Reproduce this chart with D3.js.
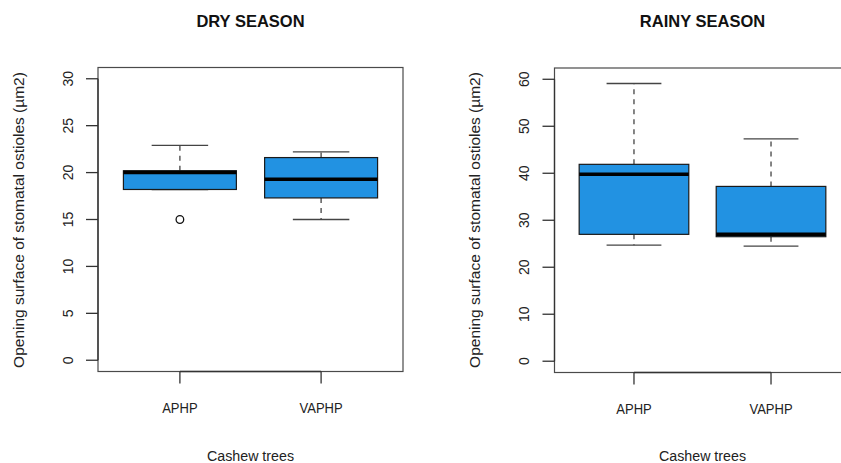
<!DOCTYPE html>
<html>
<head>
<meta charset="utf-8">
<script src="https://cdn.jsdelivr.net/npm/d3@7"></script>
<style>
  html, body { margin: 0; padding: 0; background: #fff; }
  svg { display: block; font-family: "Liberation Sans", Arial, Helvetica, sans-serif; }
</style>
</head>
<body>
<svg id="chart" width="841" height="463"></svg>
<script>
// Cashew tree groups
const categories = ["APHP", "VAPHP"];

// Box statistics per group: [lower whisker, Q1, median, Q3, upper whisker]
const dryStats = [
  [18.2, 18.2, 20.0, 20.2, 22.9],
  [15.0, 17.3, 19.3, 21.6, 22.2]
];
const dryOutliers = [[15.0], []];

const rainyStats = [
  [24.7, 27.0, 39.8, 41.9, 59.1],
  [24.5, 26.5, 27.0, 37.2, 47.3]
];
const rainyOutliers = [[], []];

// Axis ticks
const dryTicks = [0, 5, 10, 15, 20, 25, 30];
const rainyTicks = [0, 10, 20, 30, 40, 50, 60];

const titles = ["DRY SEASON", "RAINY SEASON"];
const xTitle = "Cashew trees";
const yTitle = "Opening surface of stomatal ostioles (µm2)";

const FILL = "#2292E2";
const svg = d3.select("#chart");

function drawPanel(opts) {
  const { left, right, top, bottom, stats, outliers, ticks, ymax, title } = opts;
  const g = svg.append("g");

  // R-style 4% padding on both axes
  const padY = ymax * 0.04;
  const y = d3.scaleLinear().domain([-padY, ymax + padY]).range([bottom, top]);
  const x = d3.scaleLinear().domain([0.42, 2.58]).range([left, right]);
  const unit = x(2) - x(1);

  // Frame
  g.append("rect")
    .attr("x", left).attr("y", top)
    .attr("width", right - left).attr("height", bottom - top)
    .attr("fill", "none").attr("stroke", "#4a4a4a").attr("stroke-width", 1.2);

  // Boxes
  categories.forEach((c, i) => {
    const s = stats[i];
    const cx = x(i + 1);
    const bw = unit * 0.4;
    const sw = unit * 0.2;
    const bx = g.append("g");

    // whiskers (dashed)
    bx.append("line")
      .attr("x1", cx).attr("x2", cx).attr("y1", y(s[3])).attr("y2", y(s[4]))
      .attr("stroke", "#444").attr("stroke-width", 1.3).attr("stroke-dasharray", "5,5");
    bx.append("line")
      .attr("x1", cx).attr("x2", cx).attr("y1", y(s[1])).attr("y2", y(s[0]))
      .attr("stroke", "#444").attr("stroke-width", 1.3).attr("stroke-dasharray", "5,5");
    // staples
    [s[0], s[4]].forEach(v => {
      bx.append("line")
        .attr("x1", cx - sw).attr("x2", cx + sw).attr("y1", y(v)).attr("y2", y(v))
        .attr("stroke", "#444").attr("stroke-width", 1.3);
    });
    // box
    bx.append("rect")
      .attr("x", cx - bw).attr("width", bw * 2)
      .attr("y", y(s[3])).attr("height", y(s[1]) - y(s[3]))
      .attr("fill", FILL).attr("stroke", "#1a1a1a").attr("stroke-width", 1.2);
    // median
    bx.append("line")
      .attr("x1", cx - bw).attr("x2", cx + bw).attr("y1", y(s[2])).attr("y2", y(s[2]))
      .attr("stroke", "#000").attr("stroke-width", 3.5);
    // outliers
    outliers[i].forEach(v => {
      bx.append("circle")
        .attr("cx", cx).attr("cy", y(v)).attr("r", 3.8)
        .attr("fill", "none").attr("stroke", "#111").attr("stroke-width", 1.3);
    });
  });

  // Y axis: ticks leftwards from frame, rotated labels
  const ya = g.append("g");
  ya.append("line")
    .attr("x1", left).attr("x2", left)
    .attr("y1", y(ticks[0])).attr("y2", y(ticks[ticks.length - 1]))
    .attr("stroke", "#333").attr("stroke-width", 1.3);
  ticks.forEach(t => {
    ya.append("line")
      .attr("x1", left - 12).attr("x2", left).attr("y1", y(t)).attr("y2", y(t))
      .attr("stroke", "#333").attr("stroke-width", 1.3);
    ya.append("text")
      .attr("transform", `translate(${left - 25.5},${y(t)}) rotate(-90)`)
      .attr("text-anchor", "middle").attr("font-size", 14).attr("fill", "#222")
      .text(t);
  });

  // X axis: line between first and last tick, ticks downward
  const xa = g.append("g");
  xa.append("line")
    .attr("x1", x(1)).attr("x2", x(categories.length))
    .attr("y1", bottom).attr("y2", bottom)
    .attr("stroke", "#333").attr("stroke-width", 1.5);
  categories.forEach((c, i) => {
    xa.append("line")
      .attr("x1", x(i + 1)).attr("x2", x(i + 1)).attr("y1", bottom).attr("y2", bottom + 12)
      .attr("stroke", "#333").attr("stroke-width", 1.3);
    xa.append("text")
      .attr("transform", `translate(${x(i + 1)},${bottom + 41.5}) scale(0.93,1)`)
      .attr("text-anchor", "middle").attr("font-size", 14).attr("fill", "#222")
      .text(c);
  });

  // Titles
  const cxp = (left + right) / 2;
  g.append("text")
    .attr("x", cxp).attr("y", 27)
    .attr("text-anchor", "middle").attr("font-size", 16.5).attr("font-weight", "bold")
    .attr("fill", "#111").text(title);
  g.append("text")
    .attr("transform", `translate(${cxp},461) scale(0.95,1)`)
    .attr("text-anchor", "middle").attr("font-size", 15).attr("fill", "#222")
    .text(xTitle);
  g.append("text")
    .attr("transform", `translate(${left - 74.5},220) rotate(-90)`)
    .attr("text-anchor", "middle").attr("font-size", 15.5).attr("fill", "#222")
    .text(yTitle);
}

drawPanel({
  left: 98, right: 403, top: 67.5, bottom: 371.5,
  stats: dryStats, outliers: dryOutliers, ticks: dryTicks, ymax: 30, title: titles[0]
});
drawPanel({
  left: 554.5, right: 850.5, top: 68, bottom: 372.5,
  stats: rainyStats, outliers: rainyOutliers, ticks: rainyTicks, ymax: 60, title: titles[1]
});
</script>
</body>
</html>
